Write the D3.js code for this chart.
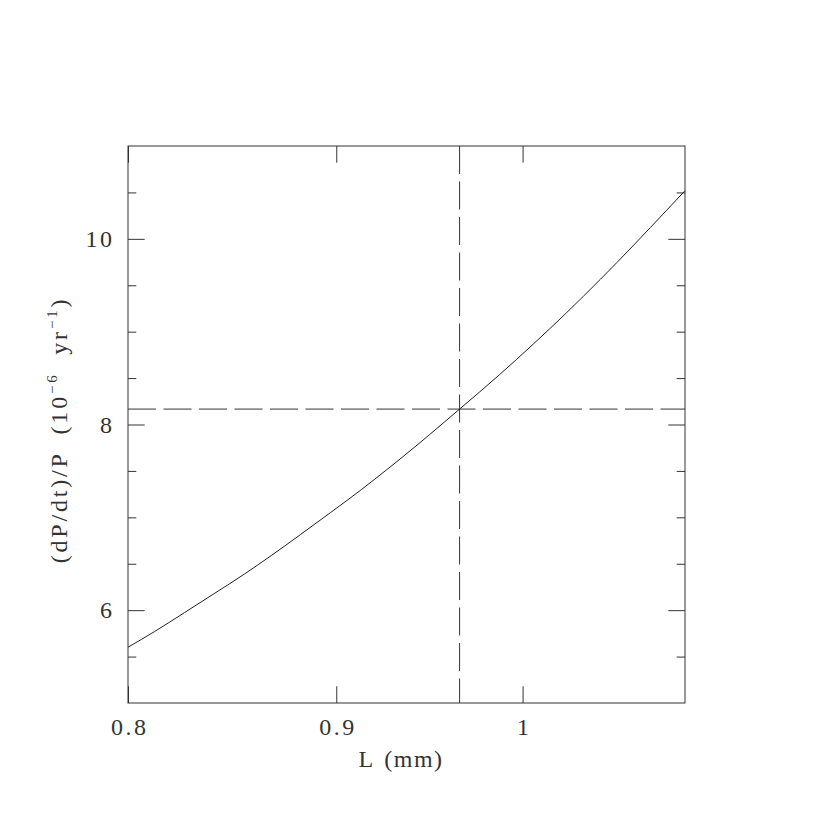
<!DOCTYPE html>
<html>
<head>
<meta charset="utf-8">
<script src="https://cdn.jsdelivr.net/npm/d3@7"></script>
<style>
  body { margin: 0; background: #fff; }
  text { font-family: "Liberation Serif", "DejaVu Serif", serif; fill: #333; }
</style>
</head>
<body>
<div id="chart"></div>
<script>
// values
var lengthMm = [0.800, 0.812, 0.826, 0.838, 0.8545, 0.8675, 0.882, 0.897, 0.913, 0.926,
                0.933, 0.965, 0.987, 1.006, 1.025, 1.045, 1.065, 1.085, 1.0962];
var rate     = [5.601, 5.768, 5.974, 6.150, 6.390, 6.588, 6.815, 7.050, 7.301, 7.512,
                7.627, 8.166, 8.536, 8.865, 9.201, 9.564, 9.935, 10.310, 10.518];

// reference marks (dashed)
var refL = 0.965;
var refRate = 8.166;

var xTicks = [0.8, 0.9, 1];
var xTickLabels = ["0.8", "0.9", "1"];
var yTicks = [6, 8, 10];
var yMinorTicks = [5.5, 6.5, 7, 7.5, 8.5, 9, 9.5, 10.5];

var margin = {top: 146, left: 128},
    width = 557,
    height = 557;

var svg = d3.select("#chart").append("svg")
    .attr("width", 830)
    .attr("height", 830);

var g = svg.append("g")
    .attr("transform", "translate(" + margin.left + "," + margin.top + ")");

var x = d3.scaleLog().domain([0.8, 1.0962]).range([0, width]);
var y = d3.scaleLinear().domain([5, 11]).range([height, 0]);

var major = 16.7, minor = 8.3;

function style(sel) {
  sel.select(".domain").remove();
  sel.selectAll("line").attr("stroke", "#333").attr("stroke-width", 1);
  return sel;
}

// left axis with labels
g.append("g")
  .call(d3.axisLeft(y).tickValues(yTicks).tickFormat(d3.format("d"))
    .tickSizeInner(-major).tickSizeOuter(0).tickPadding(16))
  .call(style)
  .selectAll("text").attr("font-size", 24).attr("letter-spacing", 2.5)
  .attr("font-family", "Liberation Serif").attr("dx", 2.5);

g.append("g")
  .call(d3.axisLeft(y).tickValues(yMinorTicks).tickFormat("").tickSizeInner(-minor).tickSizeOuter(0))
  .call(style);

// right axis
g.append("g").attr("transform", "translate(" + width + ",0)")
  .call(d3.axisRight(y).tickValues(yTicks).tickFormat("").tickSizeInner(-major).tickSizeOuter(0))
  .call(style);
g.append("g").attr("transform", "translate(" + width + ",0)")
  .call(d3.axisRight(y).tickValues(yMinorTicks).tickFormat("").tickSizeInner(-minor).tickSizeOuter(0))
  .call(style);

// bottom axis with labels
g.append("g").attr("transform", "translate(0," + height + ")")
  .call(d3.axisBottom(x).tickValues(xTicks).tickFormat(function(d, i) { return xTickLabels[i]; })
    .tickSizeInner(-major).tickSizeOuter(0).tickPadding(15))
  .call(style)
  .selectAll("text").attr("font-size", 24).attr("letter-spacing", 2.5)
  .attr("font-family", "Liberation Serif").attr("dx", 1.2);

// top axis
g.append("g")
  .call(d3.axisTop(x).tickValues(xTicks).tickFormat("").tickSizeInner(-major).tickSizeOuter(0))
  .call(style);

// frame
g.append("rect")
  .attr("width", width).attr("height", height)
  .attr("fill", "none").attr("stroke", "#333").attr("stroke-width", 1);

// dashed reference lines
g.append("line")
  .attr("x1", 0).attr("x2", width)
  .attr("y1", y(refRate)).attr("y2", y(refRate))
  .attr("stroke", "#333").attr("stroke-dasharray", "28,7.5");
g.append("line")
  .attr("x1", x(refL)).attr("x2", x(refL))
  .attr("y1", 0).attr("y2", height)
  .attr("stroke", "#333").attr("stroke-dasharray", "28,7.5");

// curve
var line = d3.line()
  .x(function(d, i) { return x(lengthMm[i]); })
  .y(function(d) { return y(d); })
  .curve(d3.curveMonotoneX);

g.append("path")
  .datum(rate)
  .attr("d", line)
  .attr("fill", "none")
  .attr("stroke", "#222")
  .attr("stroke-width", 1);

// axis titles
svg.append("text")
  .attr("x", 401).attr("y", 766.7)
  .attr("text-anchor", "middle")
  .attr("font-size", 24).attr("letter-spacing", 1.5)
  .attr("word-spacing", 3)
  .text("L (mm)");

var yl = svg.append("text")
  .attr("transform", "translate(67,430) rotate(-90)")
  .attr("text-anchor", "middle")
  .attr("font-size", 24).attr("letter-spacing", 2.8)
  .attr("word-spacing", 9);
yl.append("tspan").text("(dP/dt)/P (10");
yl.append("tspan").attr("dy", -10).attr("font-size", 15).text("\u22126");
yl.append("tspan").attr("dy", 10).text(" yr");
yl.append("tspan").attr("dy", -10).attr("font-size", 15).text("\u22121");
yl.append("tspan").attr("dy", 10).text(")");
</script>
</body>
</html>
